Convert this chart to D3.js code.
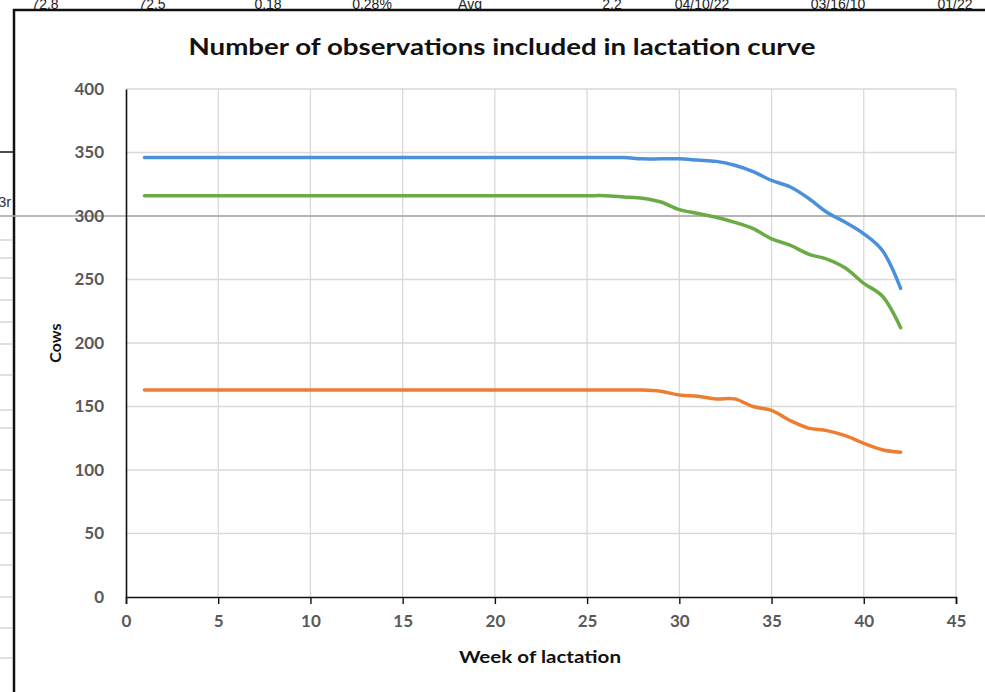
<!DOCTYPE html>
<html>
<head>
<meta charset="utf-8">
<script src="https://cdn.jsdelivr.net/npm/d3@7"></script>
<style>
    body { margin: 0; background: #ffffff; }
    svg { display: block; }
</style>
</head>
<body>
<div class="curr-graff"></div>
<script>
// Chart data
const weeks = [1, 2, 3, 4, 5, 6, 7, 8, 9, 10, 11, 12, 13, 14, 15, 16, 17, 18, 19, 20, 21,
    22, 23, 24, 25, 26, 27, 28, 29, 30, 31, 32, 33, 34, 35, 36, 37, 38, 39, 40, 41, 42];

const seriesBlue = [346, 346, 346, 346, 346, 346, 346, 346, 346, 346, 346, 346, 346, 346,
    346, 346, 346, 346, 346, 346, 346, 346, 346, 346, 346, 346, 346, 345, 345, 345,
    344, 343, 340, 335, 328, 323, 314, 303, 295, 286, 273, 243];

const seriesGreen = [316, 316, 316, 316, 316, 316, 316, 316, 316, 316, 316, 316, 316, 316,
    316, 316, 316, 316, 316, 316, 316, 316, 316, 316, 316, 316, 315, 314, 311, 305,
    302, 299, 295, 290, 282, 277, 270, 266, 259, 247, 237, 212];

const seriesOrange = [163, 163, 163, 163, 163, 163, 163, 163, 163, 163, 163, 163, 163, 163,
    163, 163, 163, 163, 163, 163, 163, 163, 163, 163, 163, 163, 163, 163, 162, 159,
    158, 156, 156, 150, 147, 139, 133, 131, 127, 121, 116, 114];

const xTicks = [0, 5, 10, 15, 20, 25, 30, 35, 40, 45];
const yTicks = [0, 50, 100, 150, 200, 250, 300, 350, 400];

// Spreadsheet cells peeking out above the chart
const cellTexts = ["72.8", "72.5", "0.18", "0.28%", "Avg", "2.2", "04/10/22", "03/16/10", "01/22"];
const cellX = [45, 152, 268, 372, 470, 612, 702, 838, 955];

let width = 985;
let height = 692;

let svg = d3.select(".curr-graff")
    .append("svg")
    .attr("width", width)
    .attr("height", height);

// Background bits of the spreadsheet
function DrawSheetBits() {
    svg.selectAll(".cell-text")
        .data(cellTexts)
        .enter().append("text")
        .attr("x", function(d, i) { return cellX[i]; })
        .attr("y", 9)
        .attr("text-anchor", "middle")
        .style("font-family", "Liberation Sans, Arial, sans-serif")
        .style("font-size", "14px")
        .style("fill", "#222")
        .text(function(d) { return d; });

    // faint row lines on the left
    const rowY = [240, 258, 278, 300, 322, 344, 375, 410, 428, 470, 500, 533, 565, 597, 628, 658];
    svg.selectAll(".row-line")
        .data(rowY)
        .enter().append("line")
        .attr("x1", 0).attr("x2", 12)
        .attr("y1", function(d) { return d; })
        .attr("y2", function(d) { return d; })
        .attr("stroke", "#d6d6d6")
        .attr("stroke-width", 1.5);

    svg.append("line")
        .attr("x1", 0).attr("x2", 14)
        .attr("y1", 152).attr("y2", 152)
        .attr("stroke", "#111").attr("stroke-width", 1.5);

    svg.append("text")
        .attr("x", -2).attr("y", 207)
        .style("font-family", "Liberation Sans, Arial, sans-serif")
        .style("font-size", "15px")
        .style("fill", "#333")
        .text("3r");
}

DrawSheetBits();

// Chart area border
svg.append("rect")
    .attr("x", 14).attr("y", 10)
    .attr("width", width + 20).attr("height", height + 20)
    .attr("fill", "#ffffff")
    .attr("stroke", "#111")
    .attr("stroke-width", 2.5);

// Plot area
let plotLeft = 126, plotRight = 956, plotTop = 89, plotBottom = 597;

let scaleX = d3.scaleLinear().domain([0, 45]).range([plotLeft, plotRight]);
let scaleY = d3.scaleLinear().domain([0, 400]).range([plotBottom, plotTop]);

// Gridlines
svg.append("g")
    .selectAll("line")
    .data(yTicks.filter(function(d) { return d > 0; }))
    .enter().append("line")
    .attr("x1", plotLeft).attr("x2", plotRight)
    .attr("y1", function(d) { return scaleY(d); })
    .attr("y2", function(d) { return scaleY(d); })
    .attr("stroke", "#d9d9d9")
    .attr("stroke-width", 1.3);

svg.append("g")
    .selectAll("line")
    .data(xTicks.filter(function(d) { return d > 0; }))
    .enter().append("line")
    .attr("x1", function(d) { return scaleX(d); })
    .attr("x2", function(d) { return scaleX(d); })
    .attr("y1", plotTop).attr("y2", plotBottom)
    .attr("stroke", "#d9d9d9")
    .attr("stroke-width", 1.3);

// Gray sheet line that runs across the whole picture
svg.append("line")
    .attr("x1", 0).attr("x2", width)
    .attr("y1", 216).attr("y2", 216)
    .attr("stroke", "#a6a6a6")
    .attr("stroke-width", 1.5);

// Axes
let axisX = d3.axisBottom(scaleX)
    .tickValues(xTicks)
    .tickSize(7)
    .tickPadding(11)
    .tickFormat(d3.format("d"));

let gx = svg.append("g")
    .attr("transform", `translate(0, ${plotBottom})`)
    .call(axisX);

let axisY = d3.axisLeft(scaleY)
    .tickValues(yTicks)
    .tickSize(0)
    .tickPadding(22)
    .tickFormat(d3.format("d"));

let gy = svg.append("g")
    .attr("transform", `translate(${plotLeft}, 0)`)
    .call(axisY);

gx.select(".domain").attr("stroke", "#111").attr("stroke-width", 1.6);
gx.selectAll(".tick line").attr("stroke", "#111").attr("stroke-width", 1.4);
gy.select(".domain").attr("stroke", "#111").attr("stroke-width", 1.6);

svg.selectAll(".tick text")
    .style("font-family", "Lato, 'Open Sans', sans-serif")
    .style("font-weight", "bold")
    .style("font-size", "17px")
    .style("fill", "#595959");

// Lines
let line = d3.line()
    .x(function(d, i) { return scaleX(weeks[i]); })
    .y(function(d) { return scaleY(d); })
    .curve(d3.curveCatmullRom.alpha(0.5));

const seriesList = [
    { values: seriesBlue, color: "#4a90da" },
    { values: seriesGreen, color: "#6aab45" },
    { values: seriesOrange, color: "#ed7d31" }
];

for (let i = 0; i < seriesList.length; i++) {
    svg.append("path")
        .datum(seriesList[i].values)
        .attr("fill", "none")
        .attr("stroke", seriesList[i].color)
        .attr("stroke-width", 3.5)
        .attr("stroke-linecap", "round")
        .attr("stroke-linejoin", "round")
        .attr("d", line);
}

// Titles
svg.append("text")
    .attr("x", 502).attr("y", 55)
    .attr("text-anchor", "middle")
    .attr("textLength", 627)
    .attr("lengthAdjust", "spacingAndGlyphs")
    .style("font-family", "Lato, 'Open Sans', sans-serif")
    .style("font-weight", "bold")
    .style("font-size", "23px")
    .style("fill", "#111")
    .text("Number of observations included in lactation curve");

svg.append("text")
    .attr("x", 540).attr("y", 663)
    .attr("text-anchor", "middle")
    .attr("textLength", 162)
    .attr("lengthAdjust", "spacingAndGlyphs")
    .style("font-family", "Lato, 'Open Sans', sans-serif")
    .style("font-weight", "bold")
    .style("font-size", "17px")
    .style("fill", "#111")
    .text("Week of lactation");

svg.append("text")
    .attr("transform", "translate(61, 343) rotate(-90)")
    .attr("text-anchor", "middle")
    .style("font-family", "Lato, 'Open Sans', sans-serif")
    .style("font-weight", "bold")
    .style("font-size", "16px")
    .style("fill", "#111")
    .text("Cows");
</script>
</body>
</html>
